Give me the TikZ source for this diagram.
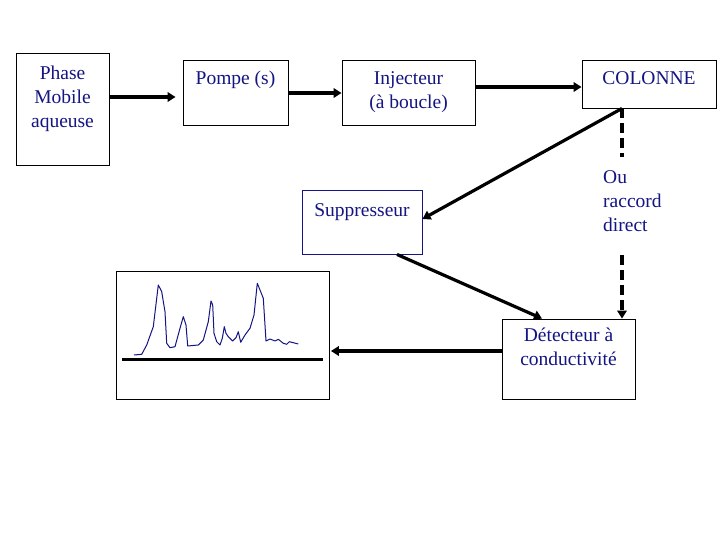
\documentclass[tikz,border=0pt]{standalone}
\usepackage{fontspec}
\setmainfont{Liberation Serif}
\usetikzlibrary{arrows.meta}
\definecolor{navy}{RGB}{20,20,130}
\begin{document}
\begin{tikzpicture}[x=1pt,y=-1pt,
  box/.style={draw=black,line width=0.9pt,rectangle,inner sep=0pt},
  txt/.style={text=navy,font=\fontsize{19.5}{24}\selectfont,inner sep=0pt,align=center,anchor=north},
  arr/.style={draw=black,line width=3.2pt,-{Triangle[length=8pt,width=9.5pt]}},
  dashline/.style={draw=black,line width=3.5pt,dash pattern=on 10pt off 5pt},
]
\useasboundingbox[fill=white] (0,0) rectangle (720,540);
% boxes
\node[box,minimum width=93pt,minimum height=112pt] (phase) at (62.5,109) {};
\node[box,minimum width=105pt,minimum height=65pt] (pompe) at (235.5,92.5) {};
\node[box,minimum width=133pt,minimum height=65pt] (inj) at (408.5,92.5) {};
\node[box,minimum width=134pt,minimum height=48pt] (col) at (649,84) {};
\node[box,draw=navy,minimum width=120pt,minimum height=64pt] (supp) at (362,222) {};
\node[box,minimum width=213pt,minimum height=128pt] (chrom) at (222.5,335) {};
\node[box,minimum width=133pt,minimum height=80pt] (det) at (568.5,359) {};
% texts
\node[txt] (phaset) at (62.5,66) {Phase\\Mobile\\aqueuse};
\node[txt] (pompet) at (235.5,71) {Pompe (s)};
\node[txt] (injt) at (408.5,71.5) {Injecteur\\(à boucle)};
\node[txt] (colt) at (649,71.5) {COLONNE};
\node[txt] (suppt) at (362,203.5) {Suppresseur};
\node[txt] (dett) at (568.5,328) {Détecteur à\\conductivité};
\node[txt,align=left,anchor=north west] (out) at (603,170) {Ou\\raccord\\direct};
% connectors
\draw[arr,shorten >=7pt] (phase.east |- 0,97) -- (pompe.west |- 0,97);
\draw[arr] (pompe.east |- 0,93) -- (inj.west |- 0,93);
\draw[arr] (inj.east |- 0,87) -- (col.west |- 0,87);
\coordinate (cs) at (col.south -| 622,0);
\draw[arr] (cs) -- (supp.east |- 0,219);
\draw[arr] (supp.south -| 397,0) -- (det.north -| 542,0);
\coordinate (d1) at (622,157);
\coordinate (d2) at (622,255);
\draw[dashline] (cs) -- (d1);
\draw[dashline,-{Triangle[length=8pt,width=9.5pt]}] (d2) -- (det.north -| 622,0);
\draw[arr,shorten >=1.5pt] (det.west |- 0,351) -- (chrom.east |- 0,351);
% chromatogram
\draw[line width=3pt] (122,359) -- (323,359);
\draw[navy,line width=1pt,line join=round] (134,355) -- (141.7,354.3) -- (146.7,345) -- (153.3,326.7) -- (158.3,285) -- (161.7,291.7) -- (165,311.7) -- (166.7,343.3) -- (170,347.7) -- (175,346.7) -- (180,328.3) -- (183.3,316.7) -- (186,325) -- (187.7,346) -- (198.3,345) -- (203.3,340) -- (208.3,321.7) -- (211,301) -- (212.7,305) -- (214,333.3) -- (216.7,341.7) -- (220,345) -- (222.3,338.3) -- (224.3,326.7) -- (226,333.3) -- (228.3,336.7) -- (232.7,341) -- (236,337.7) -- (238.3,331.7) -- (240.7,342.3) -- (245,335) -- (250,328.3) -- (254,315) -- (257.3,283.3) -- (260,290) -- (263.3,298.3) -- (266,341) -- (270,339) -- (275,341) -- (278.3,339.3) -- (283.3,343.3) -- (286.7,344.3) -- (289.3,341.7) -- (293.3,342.7) -- (298.3,344);
\end{tikzpicture}
\end{document}
